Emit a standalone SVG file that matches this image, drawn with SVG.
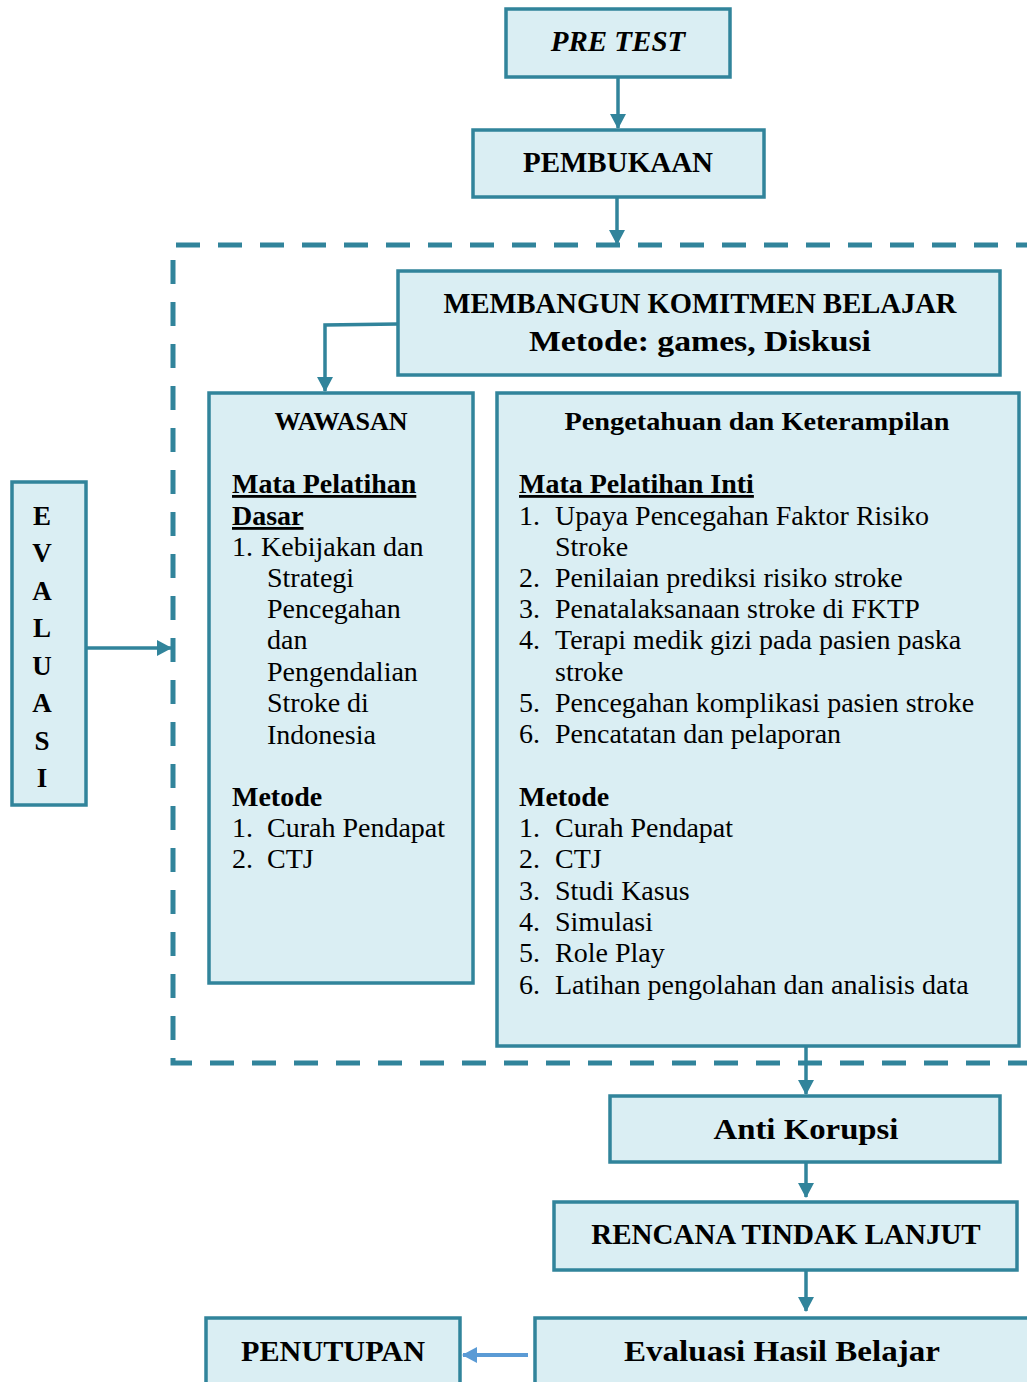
<svg xmlns="http://www.w3.org/2000/svg" width="1027" height="1382" viewBox="0 0 1027 1382">
<style>
.box{fill:#DAEEF3;stroke:#31849B;stroke-width:3.5}
.t{font-family:"Liberation Serif","DejaVu Serif",serif;fill:#000}
.h{font-weight:bold;font-size:29px;text-anchor:middle}
.b{font-size:28px}
.bb{font-size:28px;font-weight:bold}
.sh{font-size:26px;font-weight:bold;text-anchor:middle}
.u{text-decoration:underline}
.ln{stroke:#31849B;stroke-width:3.5;fill:none}
</style>
<defs>
<marker id="ah" markerUnits="userSpaceOnUse" markerWidth="16" markerHeight="16" refX="14" refY="8" orient="auto">
<path d="M0,0 L15,8 L0,16 z" fill="#31849B"/>
</marker>
<marker id="ah2" markerUnits="userSpaceOnUse" markerWidth="16" markerHeight="16" refX="14" refY="8" orient="auto">
<path d="M0,0 L15,8 L0,16 z" fill="#5B9BD5"/>
</marker>
</defs>
<rect x="0" y="0" width="1027" height="1382" fill="#fff"/>

<g id="frame">
<path d="M1040,245 L173,245 L173,1063 L1040,1063" fill="none" stroke="#31849B" stroke-width="5" stroke-dasharray="24 18"/>
</g>

<g id="connectors">
<path class="ln" d="M618,77 L618,128" marker-end="url(#ah)"/>
<path class="ln" d="M617,197 L617,244" marker-end="url(#ah)"/>
<path class="ln" d="M398,324 L325,325 L325,391" marker-end="url(#ah)"/>
<path class="ln" d="M86,648 L171,648" marker-end="url(#ah)"/>
<path class="ln" d="M806,1046 L806,1094" marker-end="url(#ah)"/>
<path class="ln" d="M806,1162 L806,1197" marker-end="url(#ah)"/>
<path class="ln" d="M806,1263 L806,1311" marker-end="url(#ah)"/>
<path d="M528,1355 L463,1355" stroke="#5B9BD5" stroke-width="4" fill="none" marker-end="url(#ah2)"/>
</g>

<g id="pretest">
<rect class="box" x="506" y="9" width="224" height="68"/>
<text class="t h" x="618" y="51" font-style="italic">PRE TEST</text>
</g>

<g id="pembukaan">
<rect class="box" x="473" y="130" width="291" height="67"/>
<text class="t h" x="618" y="172">PEMBUKAAN</text>
</g>

<g id="membangun">
<rect class="box" x="398" y="271" width="602" height="104"/>
<text class="t h" x="700" y="313" textLength="513" lengthAdjust="spacingAndGlyphs">MEMBANGUN KOMITMEN BELAJAR</text>
<text class="t h" x="700" y="351" textLength="342" lengthAdjust="spacingAndGlyphs">Metode: games, Diskusi</text>
</g>

<g id="wawasan">
<rect class="box" x="209" y="393" width="264" height="590"/>
<text class="t sh" x="341" y="430">WAWASAN</text>
<text class="t bb u" x="232" y="493">Mata Pelatihan</text>
<text class="t bb u" x="232" y="525">Dasar</text>
<text class="t b" x="232" y="556">1.</text>
<text class="t b" x="261" y="556">Kebijakan dan</text>
<text class="t b" x="267" y="587">Strategi</text>
<text class="t b" x="267" y="618">Pencegahan</text>
<text class="t b" x="267" y="649">dan</text>
<text class="t b" x="267" y="681">Pengendalian</text>
<text class="t b" x="267" y="712">Stroke di</text>
<text class="t b" x="267" y="744">Indonesia</text>
<text class="t bb" x="232" y="806">Metode</text>
<text class="t b" x="232" y="837">1.</text>
<text class="t b" x="267" y="837">Curah Pendapat</text>
<text class="t b" x="232" y="868">2.</text>
<text class="t b" x="267" y="868">CTJ</text>
</g>

<g id="pengetahuan">
<rect class="box" x="497" y="393" width="522" height="653"/>
<text class="t sh" x="757" y="430" textLength="385" lengthAdjust="spacingAndGlyphs">Pengetahuan dan Keterampilan</text>
<text class="t bb u" x="519" y="493">Mata Pelatihan Inti</text>
<text class="t b" x="519" y="525">1.</text>
<text class="t b" x="555" y="525">Upaya Pencegahan Faktor Risiko</text>
<text class="t b" x="555" y="556">Stroke</text>
<text class="t b" x="519" y="587">2.</text>
<text class="t b" x="555" y="587">Penilaian prediksi risiko stroke</text>
<text class="t b" x="519" y="618">3.</text>
<text class="t b" x="555" y="618">Penatalaksanaan stroke di FKTP</text>
<text class="t b" x="519" y="649">4.</text>
<text class="t b" x="555" y="649">Terapi medik gizi pada pasien paska</text>
<text class="t b" x="555" y="681">stroke</text>
<text class="t b" x="519" y="712">5.</text>
<text class="t b" x="555" y="712">Pencegahan komplikasi pasien stroke</text>
<text class="t b" x="519" y="743">6.</text>
<text class="t b" x="555" y="743">Pencatatan dan pelaporan</text>
<text class="t bb" x="519" y="806">Metode</text>
<text class="t b" x="519" y="837">1.</text>
<text class="t b" x="555" y="837">Curah Pendapat</text>
<text class="t b" x="519" y="868">2.</text>
<text class="t b" x="555" y="868">CTJ</text>
<text class="t b" x="519" y="900">3.</text>
<text class="t b" x="555" y="900">Studi Kasus</text>
<text class="t b" x="519" y="931">4.</text>
<text class="t b" x="555" y="931">Simulasi</text>
<text class="t b" x="519" y="962">5.</text>
<text class="t b" x="555" y="962">Role Play</text>
<text class="t b" x="519" y="994">6.</text>
<text class="t b" x="555" y="994">Latihan pengolahan dan analisis data</text>
</g>

<g id="evaluasi">
<rect class="box" x="12" y="482" width="74" height="323"/>
<g class="t" font-weight="bold" font-size="27" text-anchor="middle">
<text x="42" y="525">E</text>
<text x="42" y="562">V</text>
<text x="42" y="600">A</text>
<text x="42" y="637">L</text>
<text x="42" y="675">U</text>
<text x="42" y="712">A</text>
<text x="42" y="750">S</text>
<text x="42" y="787">I</text>
</g>
</g>

<g id="antikorupsi">
<rect class="box" x="610" y="1096" width="390" height="66"/>
<text class="t h" x="806" y="1139" textLength="185" lengthAdjust="spacingAndGlyphs">Anti Korupsi</text>
</g>

<g id="rtl">
<rect class="box" x="554" y="1202" width="463" height="68"/>
<text class="t h" x="786" y="1244">RENCANA TINDAK LANJUT</text>
</g>

<g id="evaluasihasil">
<rect class="box" x="535" y="1318" width="500" height="80"/>
<text class="t h" x="782" y="1361" textLength="316" lengthAdjust="spacingAndGlyphs">Evaluasi Hasil Belajar</text>
</g>

<g id="penutupan">
<rect class="box" x="206" y="1318" width="254" height="80"/>
<text class="t h" x="333" y="1361" textLength="184" lengthAdjust="spacingAndGlyphs">PENUTUPAN</text>
</g>
</svg>
